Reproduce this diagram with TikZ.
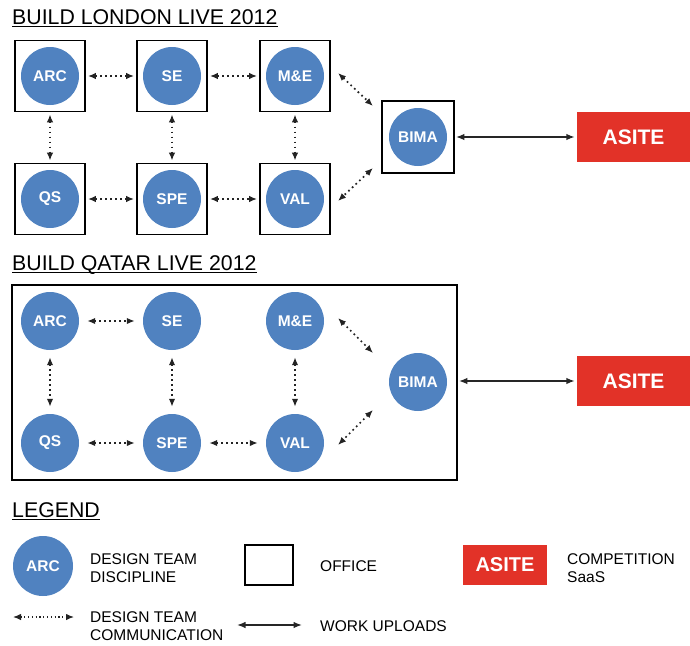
\documentclass[tikz,border=0pt]{standalone}
\usepackage{fontspec}
\setmainfont{Liberation Sans}
\usetikzlibrary{arrows.meta}
\definecolor{discblue}{RGB}{80,130,192}
\definecolor{asitered}{RGB}{226,50,40}
\definecolor{dotgray}{RGB}{35,35,35}
\newcommand{\myfs}[1]{\fontsize{#1}{#1}\selectfont}
\begin{document}
\begin{tikzpicture}[x=1pt,y=-1pt,
  disc/.style={circle,fill=discblue,minimum size=58pt,inner sep=0pt,text=white,font=\bfseries\myfs{15.5}},
  office/.style={draw=black,line width=1.8pt,minimum width=70pt,minimum height=71pt,inner sep=0pt},
  asite/.style={fill=asitered,text=white,inner sep=0pt,font=\bfseries\myfs{21}},
  title/.style={anchor=base west,inner sep=0pt,font=\myfs{21.3}},
  uline/.style={line width=1.3pt},
  legtext/.style={anchor=west,inner sep=0pt,align=left,font=\fontsize{15.5}{17.5}\selectfont},
  comm/.style={{Latex[length=8pt,width=6.5pt]}-{Latex[length=8pt,width=6.5pt]},draw=dotgray,line width=1.7pt,dash pattern=on 1.7pt off 3.3pt},
  upload/.style={{Latex[length=8.5pt,width=6.5pt]}-{Latex[length=8.5pt,width=6.5pt]},draw=black!85,line width=1.4pt},
]
\useasboundingbox (0,0) rectangle (690,645);

% ---------- BUILD LONDON LIVE 2012 ----------
\node[title] (t1) at (12,24) {BUILD LONDON LIVE 2012};
\draw[uline] ([yshift=-2.5pt]t1.base west) -- ([yshift=-2.5pt]t1.base east);

\node[office] (lArcBox) at (50,76) {};  \node[disc] (lArc) at (50,76) {ARC};
\node[office] (lSeBox)  at (172,76) {}; \node[disc] (lSe)  at (172,76) {SE};
\node[office] (lMeBox)  at (295,76) {}; \node[disc] (lMe)  at (295,76) {M\&E};
\node[office] (lQsBox)  at (50,199) {}; \node[disc] (lQs)  at (50,199) {QS};
\node[office] (lSpeBox) at (172,199) {};\node[disc] (lSpe) at (172,199) {SPE};
\node[office] (lValBox) at (295,199) {};\node[disc] (lVal) at (295,199) {VAL};
\node[office,minimum width=72pt,minimum height=72pt] (lBimaBox) at (418,137) {};
\node[disc] (lBima) at (418,137) {BIMA};
\node[asite,minimum width=113pt,minimum height=50pt] (lAsite) at (633.5,137) {ASITE};

\draw[comm,shorten <=2pt,shorten >=2pt] (lArcBox) -- (lSeBox);
\draw[comm,shorten <=2pt,shorten >=2pt] (lSeBox) -- (lMeBox);
\draw[comm,shorten <=2pt,shorten >=2pt] (lQsBox) -- (lSpeBox);
\draw[comm,shorten <=2pt,shorten >=2pt] (lSpeBox) -- (lValBox);
\draw[comm,shorten <=2pt,shorten >=2pt] (lArcBox) -- (lQsBox);
\draw[comm,shorten <=2pt,shorten >=2pt] (lSeBox) -- (lSpeBox);
\draw[comm,shorten <=2pt,shorten >=2pt] (lMeBox) -- (lValBox);
\coordinate (lD1a) at (338,73);  \coordinate (lD1b) at (373,106);
\coordinate (lD2a) at (373,168); \coordinate (lD2b) at (338,201);
\draw[comm] (lD1a) -- (lD1b);
\draw[comm] (lD2a) -- (lD2b);
\draw[upload,shorten <=1pt,shorten >=2pt] (lBimaBox) -- (lAsite);

% ---------- BUILD QATAR LIVE 2012 ----------
\node[title] (t2) at (12,270) {BUILD QATAR LIVE 2012};
\draw[uline] ([yshift=-2.5pt]t2.base west) -- ([yshift=-2.5pt]t2.base east);

\node[draw=black,line width=1.8pt,minimum width=445pt,minimum height=195pt,inner sep=0pt] (qFrame) at (234.5,382.5) {};
\node[disc] (qArc) at (50,321) {ARC};
\node[disc] (qSe)  at (172,321) {SE};
\node[disc] (qMe)  at (295,321) {M\&E};
\node[disc] (qQs)  at (50,443) {QS};
\node[disc] (qSpe) at (172,443) {SPE};
\node[disc] (qVal) at (295,443) {VAL};
\node[disc] (qBima) at (418,382) {BIMA};
\node[asite,minimum width=113pt,minimum height=50pt] (qAsite) at (633.5,381) {ASITE};

\draw[comm,shorten <=8pt,shorten >=8pt] (qArc) -- (qSe);
\draw[comm,shorten <=8pt,shorten >=8pt] (qQs) -- (qSpe);
\draw[comm,shorten <=8pt,shorten >=8pt] (qSpe) -- (qVal);
\draw[comm,shorten <=7pt,shorten >=7pt] (qArc) -- (qQs);
\draw[comm,shorten <=7pt,shorten >=7pt] (qSe) -- (qSpe);
\draw[comm,shorten <=7pt,shorten >=7pt] (qMe) -- (qVal);
\coordinate (qD1a) at (338,318); \coordinate (qD1b) at (373,353);
\coordinate (qD2a) at (373,410); \coordinate (qD2b) at (338,445);
\draw[comm] (qD1a) -- (qD1b);
\draw[comm] (qD2a) -- (qD2b);
\draw[upload,shorten <=1pt,shorten >=2pt] (qFrame.east |- qAsite) -- (qAsite);

% ---------- LEGEND ----------
\node[title] (t3) at (12,517) {LEGEND};
\draw[uline] ([yshift=-2.5pt]t3.base west) -- ([yshift=-2.5pt]t3.base east);

\node[disc,minimum size=60pt] (legDisc) at (43,566) {ARC};
\node[legtext] (legDiscT) at (90,568) {DESIGN TEAM\\DISCIPLINE};
\node[draw=black,line width=1.6pt,minimum width=48pt,minimum height=40pt,inner sep=0pt] (legOffice) at (269,565) {};
\node[legtext] (legOfficeT) at (320,566) {OFFICE};
\node[asite,minimum width=84pt,minimum height=40pt,font=\bfseries\myfs{20}] (legAsite) at (505,565) {ASITE};
\node[legtext] (legAsiteT) at (567,568) {COMPETITION\\SaaS};

\coordinate (legCommA) at (13,617); \coordinate (legCommB) at (74,617);
\draw[comm,line width=1.2pt,dash pattern=on 1.2pt off 2.6pt] (legCommA) -- (legCommB);
\node[legtext] (legCommT) at (90,626) {DESIGN TEAM\\COMMUNICATION};
\coordinate (legUpA) at (237,625); \coordinate (legUpB) at (302,625);
\draw[upload] (legUpA) -- (legUpB);
\node[legtext] (legUpT) at (320,626) {WORK UPLOADS};
\end{tikzpicture}
\end{document}
